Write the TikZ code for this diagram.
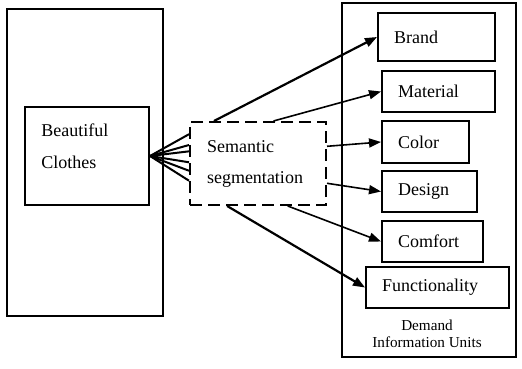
\documentclass[tikz,border=0pt]{standalone}
\usepackage{fontspec}
\setmainfont{Liberation Serif}
\usetikzlibrary{arrows.meta}
\tikzset{
  frame/.style={draw, line width=1pt, inner sep=0pt},
  unit/.style={draw, line width=1pt, inner xsep=8pt, inner ysep=0pt, align=left, minimum height=20.5pt, font=\fontsize{9}{16}\selectfont},
  link/.style={-{Triangle[length=6pt,width=4.5pt]}, line width=0.8pt},
  boldlink/.style={-{Triangle[length=6pt,width=4.5pt]}, line width=1.1pt}
}
\begin{document}
\begin{tikzpicture}[x=0.5pt, y=-0.5pt]
    \useasboundingbox (0,0) rectangle (522,368);
    % left side
    \node[frame, minimum width=78pt, minimum height=153.5pt] (left) at (85,162.5) {};
    \node[frame, minimum width=62pt, minimum height=49pt] (clothes) at (87,156) {};
    \node[anchor=west, align=left, inner sep=0pt, font=\fontsize{9}{16}\selectfont] (clothestext) at (41,146) {Beautiful\\Clothes};
    % segmentation
    \node[draw, dashed, dash pattern=on 6pt off 3pt, line width=1pt, minimum width=68pt, minimum height=41.5pt, inner xsep=8.5pt, text width=51pt, align=left, font=\fontsize{9}{15.5}\selectfont] (seg) at (258,163.5) {Semantic\\segmentation};
    % right side
    \node[frame, minimum width=87pt, minimum height=177pt] (right) at (429,180) {};
    \node[unit, text width=42.5pt, minimum height=24pt] (brand) at (436.5,37) {Brand};
    \node[unit, text width=40.5pt] (material) at (438.5,91.5) {Material};
    \node[unit, text width=27.5pt, minimum height=21pt] (color) at (425.5,142) {Color};
    \node[unit, text width=31.5pt] (design) at (429.5,191.5) {Design};
    \node[unit, text width=34.5pt] (comfort) at (432.5,241.5) {Comfort};
    \node[unit, text width=55.5pt] (function) at (437.5,287.5) {Functionality};
    \node[align=center, inner sep=0pt, font=\fontsize{7.6}{8.5}\selectfont] (units) at (427,333.5) {Demand\\Information Units};
    % arrows
    \foreach \a in {157,165,170,179,186,194}
        \draw[line width=1pt] (seg.\a) -- (clothes.east);
    \draw[boldlink] (seg.136) -- (brand.west);
    \draw[link] (seg.70) -- (material.west);
    \draw[link] (seg.14) -- (color.west);
    \draw[link] (seg.-16) -- (design.west);
    \draw[link] (seg.-55) -- (comfort.west);
    \draw[boldlink] (seg.-126) -- (function.west);
\end{tikzpicture}
\end{document}
